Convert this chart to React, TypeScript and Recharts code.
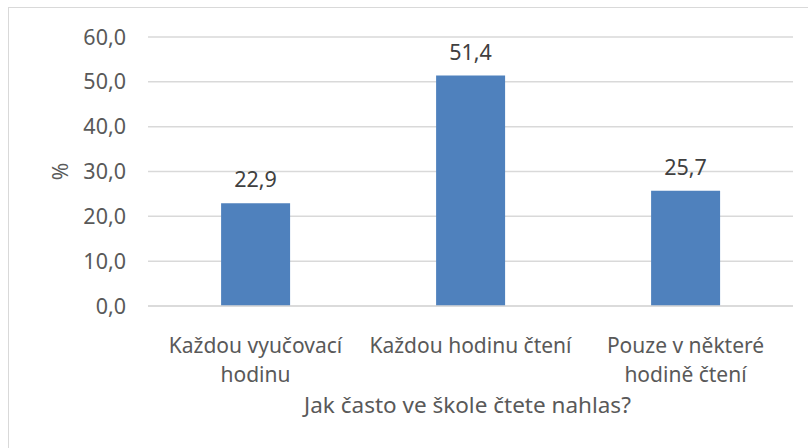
import { BarChart, Bar, XAxis, YAxis, CartesianGrid, LabelList } from "recharts";

const categories = [
  ["Každou vyučovací", "hodinu"],
  ["Každou hodinu čtení"],
  ["Pouze v některé", "hodině čtení"],
];
const percentages = [22.9, 51.4, 25.7];
const yTicks = [0, 10, 20, 30, 40, 50, 60];
const xTitle = "Jak často ve škole čtete nahlas?";
const yTitle = "%";

const data = categories.map((lines, i) => ({
  name: lines.join(" "),
  lines,
  value: percentages[i],
}));

const FONT = "'Noto Sans', sans-serif";
const TEXT = "#595959";

// comma decimal, like the Czech source
const fmt = (v: number) => v.toFixed(1).replace(".", ",");

const CategoryTick = (props: any) => {
  const { x, y, index } = props;
  const lines = data[index]?.lines ?? [];
  return (
    <text x={x} y={y + 39} textAnchor="middle" fill={TEXT} fontSize={21} fontFamily={FONT}>
      {lines.map((l: string, i: number) => (
        <tspan key={i} x={x} dy={i === 0 ? 0 : 29}>
          {l}
        </tspan>
      ))}
    </text>
  );
};

export default function App() {
  return (
    <div
      style={{
        position: "absolute",
        left: 0,
        top: 0,
        width: 808,
        height: 448,
        overflow: "hidden",
        background: "#fff",
      }}
    >
      <div
        style={{
          position: "absolute",
          left: 8,
          top: 7,
          width: 820,
          height: 460,
          border: "1.5px solid #d9d9d9",
        }}
      />
      <div style={{ position: "absolute", left: 0, top: 0 }}>
        <BarChart
          width={808}
          height={448}
          data={data}
          margin={{ top: 37, right: 15, bottom: 0, left: 48 }}
          barCategoryGap="34%"
        >
          <CartesianGrid vertical={false} stroke="#d9d9d9" strokeWidth={1.5} />
          <XAxis
            dataKey="name"
            height={142}
            axisLine={{ stroke: "#d9d9d9", strokeWidth: 1.5 }}
            tickLine={false}
            interval={0}
            tick={<CategoryTick />}
            label={{
              content: ({ viewBox }: any) => (
                <text
                  x={viewBox.x + viewBox.width / 2 - 3}
                  y={413}
                  textAnchor="middle"
                  fill={TEXT}
                  fontSize={22.5}
                  fontFamily={FONT}
                >
                  {xTitle}
                </text>
              ),
            }}
          />
          <YAxis
            width={100}
            domain={[0, 60]}
            ticks={yTicks}
            axisLine={false}
            tickLine={false}
            tickMargin={16}
            tickFormatter={fmt}
            tick={{ fill: TEXT, fontSize: 21.5, fontFamily: FONT }}
            label={{
              content: ({ viewBox }: any) => {
                const cx = 60;
                const cy = viewBox.y + viewBox.height / 2;
                return (
                  <text
                    x={cx}
                    y={cy}
                    textAnchor="middle"
                    dominantBaseline="central"
                    transform={`rotate(-90 ${cx} ${cy})`}
                    fill={TEXT}
                    fontSize={21}
                    fontFamily={FONT}
                  >
                    {yTitle}
                  </text>
                );
              },
            }}
          />
          <Bar dataKey="value" fill="#4f81bd" isAnimationActive={false}>
            <LabelList
              dataKey="value"
              content={(p: any) => (
                <text
                  x={p.x + p.width / 2}
                  y={p.y - 16}
                  textAnchor="middle"
                  fill="#404040"
                  fontSize={21.5}
                  fontFamily={FONT}
                >
                  {fmt(p.value)}
                </text>
              )}
            />
          </Bar>
        </BarChart>
      </div>
    </div>
  );
}
